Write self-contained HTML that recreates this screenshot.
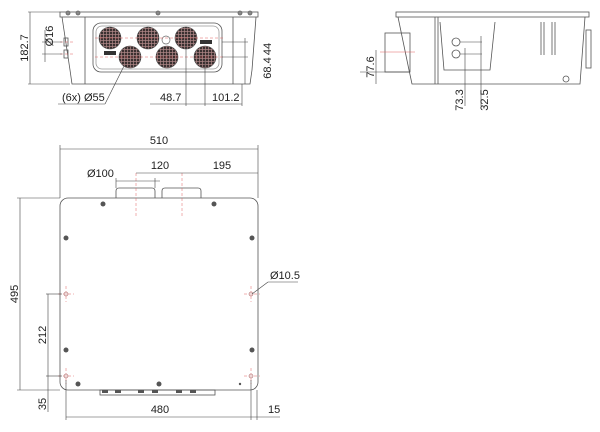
<!DOCTYPE html>
<html><head><style>
body{margin:0;background:#fff}
svg{display:block}
text{font-family:"Liberation Sans",sans-serif;font-size:11px;fill:#222}
</style></head><body>
<svg width="600" height="432" viewBox="0 0 600 432" xmlns="http://www.w3.org/2000/svg">
<defs>
<pattern id="g" width="3" height="3" patternUnits="userSpaceOnUse">
<rect width="3" height="3" fill="#3a3030"/>
<line x1="1.5" y1="0" x2="1.5" y2="3" stroke="#b08888" stroke-width="0.7"/>
<line x1="0" y1="1.5" x2="3" y2="1.5" stroke="#b08888" stroke-width="0.7"/>
</pattern>
</defs>
<g fill="none" stroke="#555" stroke-width="0.8">
<!-- FRONT VIEW -->
<rect x="60" y="12" width="198" height="5"/>
<path d="M62 17 L70 70 L72 84 L250 84 L252 70 L256 17"/>
<line x1="85" y1="17" x2="85" y2="84"/>
<line x1="233" y1="17" x2="233" y2="84"/>
<rect x="93" y="23" width="129" height="49" rx="8"/>
<rect x="96" y="26" width="123" height="43" rx="6" stroke="#999"/>
<g stroke="#666" fill="#888"><circle cx="68" cy="13" r="2"/><circle cx="78" cy="13" r="2"/><circle cx="158" cy="13" r="2"/><circle cx="240" cy="13" r="2"/><circle cx="250" cy="13" r="2"/></g>
<rect x="64" y="38" width="4" height="8"/><rect x="64" y="50" width="4" height="8"/>
</g>
<g stroke="#444" stroke-width="0.6">
<circle cx="110" cy="38" r="11" fill="url(#g)"/><circle cx="148" cy="38" r="11" fill="url(#g)"/><circle cx="186" cy="38" r="11" fill="url(#g)"/>
<circle cx="130" cy="57" r="11" fill="url(#g)"/><circle cx="167" cy="57" r="11" fill="url(#g)"/><circle cx="205" cy="57" r="11" fill="url(#g)"/>
</g>
<circle cx="166" cy="40" r="4" fill="none" stroke="#666" stroke-width="0.7"/>
<rect x="104" y="51" width="12" height="4" fill="#333"/><rect x="200" y="40" width="12" height="4" fill="#333"/>
<g stroke="#e06060" stroke-width="0.5" stroke-dasharray="3,2">
<line x1="95" y1="38" x2="225" y2="38"/><line x1="95" y1="57" x2="225" y2="57"/>
<line x1="60" y1="42" x2="75" y2="42"/><line x1="60" y1="54" x2="75" y2="54"/>
</g>
<g stroke="#444" stroke-width="0.6" fill="none">
<line x1="30" y1="12" x2="30" y2="84"/><line x1="28" y1="12" x2="60" y2="12"/><line x1="28" y1="84" x2="70" y2="84"/>
<line x1="42" y1="42" x2="62" y2="42"/><line x1="42" y1="54" x2="62" y2="54"/><line x1="45" y1="30" x2="45" y2="62"/>
<line x1="222" y1="42" x2="248" y2="42"/><line x1="222" y1="57" x2="248" y2="57"/><line x1="245" y1="38" x2="245" y2="84"/>
<line x1="186" y1="40" x2="186" y2="106"/><line x1="205" y1="60" x2="205" y2="106"/><line x1="242" y1="84" x2="242" y2="106"/>
<line x1="150" y1="104" x2="242" y2="104"/>
<line x1="58" y1="104" x2="105" y2="104"/><line x1="105" y1="104" x2="124" y2="66"/>
</g>
<text transform="translate(28,48) rotate(-90)" text-anchor="middle">182.7</text>
<text transform="translate(53,36) rotate(-90)" text-anchor="middle">Ø16</text>
<text transform="translate(271,49) rotate(-90)" text-anchor="middle">44</text>
<text transform="translate(271,68) rotate(-90)" text-anchor="middle">68.4</text>
<text x="62" y="101">(6x) Ø55</text>
<text x="160" y="101">48.7</text>
<text x="212" y="101">101.2</text>

<!-- SIDE VIEW -->
<g fill="none" stroke="#555" stroke-width="0.8">
<rect x="396" y="12" width="193" height="5"/>
<path d="M398 17 L409 70 L412 84 L580 84 L585 17"/>
<line x1="435" y1="17" x2="435" y2="84"/><line x1="438" y1="17" x2="438" y2="84"/>
<path d="M440 22 L444 70 L490 70 L495 22"/>
<rect x="385" y="33" width="25" height="39"/>
<line x1="360" y1="72" x2="410" y2="72" stroke="#444" stroke-width="0.6"/>
<rect x="586" y="30" width="5" height="38"/>
<circle cx="456" cy="42" r="4"/><circle cx="456" cy="54" r="4"/>
<circle cx="566" cy="79" r="3"/>
<line x1="541" y1="22" x2="541" y2="55"/><line x1="544" y1="22" x2="544" y2="55"/>
<line x1="552" y1="22" x2="552" y2="55"/><line x1="555" y1="22" x2="555" y2="55"/>
</g>
<line x1="380" y1="52" x2="415" y2="52" stroke="#e06060" stroke-width="0.5"/>
<g stroke="#444" stroke-width="0.6">
<line x1="376" y1="50" x2="376" y2="84"/>
<line x1="460" y1="42" x2="482" y2="42"/><line x1="460" y1="54" x2="482" y2="54"/>
<line x1="465" y1="48" x2="465" y2="106"/><line x1="481" y1="36" x2="481" y2="106"/>
</g>
<text transform="translate(374,67) rotate(-90)" text-anchor="middle">77.6</text>
<text transform="translate(463,100) rotate(-90)" text-anchor="middle">73.3</text>
<text transform="translate(488,100) rotate(-90)" text-anchor="middle">32.5</text>

<!-- PLAN VIEW -->
<g fill="none" stroke="#555" stroke-width="0.8">
<rect x="60" y="198" width="198" height="192" rx="8"/>
<path d="M116 198 L116 191 Q116 188 119 188 L152 188 Q155 188 155 191 L155 198"/>
<path d="M162 198 L162 191 Q162 188 165 188 L198 188 Q201 188 201 191 L201 198"/>
<rect x="100" y="390" width="115" height="5"/>
</g>
<g fill="#555"><rect x="102" y="390" width="6" height="3"/><rect x="115" y="390" width="6" height="3"/><rect x="138" y="390" width="6" height="3"/><rect x="152" y="390" width="6" height="3"/><rect x="176" y="390" width="6" height="3"/><rect x="190" y="390" width="6" height="3"/></g>
<g fill="#555">
<circle cx="103" cy="204" r="2.5"/><circle cx="214" cy="204" r="2.5"/>
<circle cx="66" cy="238" r="2.5"/><circle cx="252" cy="238" r="2.5"/>
<circle cx="66" cy="350" r="2.5"/><circle cx="252" cy="350" r="2.5"/>
<circle cx="78" cy="384" r="2.5"/><circle cx="159" cy="384" r="2.5"/><circle cx="240" cy="384" r="1.2"/>
</g>
<g stroke="#e06060" stroke-width="0.5" stroke-dasharray="3,2">
<line x1="136" y1="173" x2="136" y2="216"/><line x1="182" y1="173" x2="182" y2="216"/>
<line x1="58" y1="294" x2="74" y2="294"/><line x1="66" y1="286" x2="66" y2="302"/>
<line x1="244" y1="294" x2="260" y2="294"/><line x1="251" y1="286" x2="251" y2="302"/>
<line x1="58" y1="376" x2="74" y2="376"/><line x1="66" y1="368" x2="66" y2="384"/>
<line x1="244" y1="376" x2="260" y2="376"/><line x1="251" y1="368" x2="251" y2="384"/>
</g>
<g fill="#f0d8d8" stroke="#b07070" stroke-width="0.6">
<circle cx="66" cy="294" r="2"/><circle cx="251" cy="294" r="2"/><circle cx="66" cy="376" r="2"/><circle cx="251" cy="376" r="2"/>
</g>
<g stroke="#444" stroke-width="0.6" fill="none">
<line x1="60" y1="145" x2="60" y2="198"/><line x1="258" y1="145" x2="258" y2="198"/><line x1="60" y1="149" x2="258" y2="149"/>
<line x1="136" y1="173" x2="258" y2="173"/>
<line x1="116" y1="181" x2="160" y2="181"/><line x1="116" y1="178" x2="116" y2="188"/><line x1="155" y1="178" x2="155" y2="188"/>
<line x1="17" y1="198" x2="60" y2="198"/><line x1="17" y1="390" x2="60" y2="390"/><line x1="20" y1="198" x2="20" y2="390"/>
<line x1="46" y1="294" x2="62" y2="294"/><line x1="46" y1="376" x2="62" y2="376"/><line x1="48" y1="294" x2="48" y2="412"/>
<line x1="66" y1="380" x2="66" y2="420"/><line x1="251" y1="380" x2="251" y2="420"/><line x1="257" y1="390" x2="257" y2="420"/>
<line x1="66" y1="417" x2="280" y2="417"/>
<line x1="252" y1="294" x2="268" y2="282"/><line x1="268" y1="282" x2="298" y2="282"/>
</g>
<text x="159" y="144" text-anchor="middle">510</text>
<text x="160" y="169" text-anchor="middle">120</text>
<text x="222" y="169" text-anchor="middle">195</text>
<text x="87" y="177">Ø100</text>
<text x="270" y="279">Ø10.5</text>
<text transform="translate(18,294) rotate(-90)" text-anchor="middle">495</text>
<text transform="translate(46,335) rotate(-90)" text-anchor="middle">212</text>
<text transform="translate(46,404) rotate(-90)" text-anchor="middle">35</text>
<text x="160" y="413" text-anchor="middle">480</text>
<text x="268" y="413">15</text>
</svg>
</body></html>
